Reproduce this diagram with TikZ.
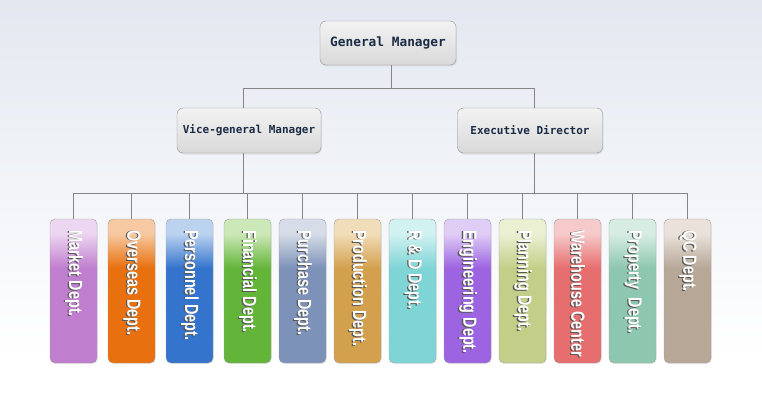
\documentclass[tikz,border=0pt]{standalone}
\usepackage{fontspec}
\setmainfont{Liberation Sans}
\newfontfamily\headfont{DejaVu Sans Mono}
\usetikzlibrary{shadows}

\definecolor{bgtop}{HTML}{E3E8F0}
\definecolor{linegray}{HTML}{858585}
\definecolor{headtext}{HTML}{1A2B45}
% department colours: light top / full body
\definecolor{mktL}{HTML}{EDD6F1}\definecolor{mktD}{HTML}{C07ECE}
\definecolor{ovsL}{HTML}{F6C9A2}\definecolor{ovsD}{HTML}{E8700E}
\definecolor{perL}{HTML}{BCD3F0}\definecolor{perD}{HTML}{3474CC}
\definecolor{finL}{HTML}{CDE8B8}\definecolor{finD}{HTML}{63B53A}
\definecolor{purL}{HTML}{D6DCE8}\definecolor{purD}{HTML}{7D92B8}
\definecolor{proL}{HTML}{F2DDBA}\definecolor{proD}{HTML}{D3A04E}
\definecolor{rndL}{HTML}{D2F1F1}\definecolor{rndD}{HTML}{7FD5D6}
\definecolor{engL}{HTML}{E0CDF6}\definecolor{engD}{HTML}{9C64E0}
\definecolor{plaL}{HTML}{EBF0D3}\definecolor{plaD}{HTML}{C3CF88}
\definecolor{warL}{HTML}{F6CACA}\definecolor{warD}{HTML}{E76E6E}
\definecolor{prpL}{HTML}{D7EDE3}\definecolor{prpD}{HTML}{8DC7AF}
\definecolor{qcL}{HTML}{EAE2DA}\definecolor{qcD}{HTML}{B7A797}

\colorlet{deptlight}{mktL}
\colorlet{deptdark}{mktD}
\pgfdeclareverticalshading[deptlight,deptdark]{deptshade}{100bp}{%
  color(0bp)=(deptdark); color(58bp)=(deptdark);
  color(70bp)=(deptlight); color(100bp)=(deptlight)}

\newcommand{\deptlabel}[1]{\scalebox{.76}[1]{%
  \rlap{\kern1pt\raisebox{-1.3pt}{\color{black!65}#1}}\color{white}#1}}

\tikzset{
    topbox/.style={draw=linegray!90, rounded corners=6pt, top color=white!95!black,
        bottom color=white!85!black, text=headtext,
        drop shadow={opacity=.15, shadow xshift=1pt, shadow yshift=-1.5pt}},
    deptbox/.style={draw=gray!75, rounded corners=5pt, shading=deptshade,
        minimum width=47pt, minimum height=144pt, inner sep=0pt,
        drop shadow={opacity=.12, shadow xshift=.8pt, shadow yshift=-1.2pt}},
    depttext/.style={rotate=-90, anchor=west, inner sep=0pt,
        font=\fontsize{19}{19}\selectfont\bfseries},
    link/.style={draw=linegray, line width=.8pt}
}

\begin{document}
\begin{tikzpicture}[x=1pt,y=-1pt]
    \useasboundingbox (0,0) rectangle (762,417);
    % background
    \shade[top color=bgtop, bottom color=white] (0,0) rectangle (762,355);
    \fill[white] (0,355) rectangle (762,417);

    % managers
    \node[topbox, minimum width=136pt, minimum height=44pt,
          font=\headfont\bfseries\fontsize{12.8}{14}\selectfont] (gm) at (388,43) {General Manager};
    \node[topbox, minimum width=144pt, minimum height=45pt,
          font=\headfont\bfseries\fontsize{11}{13}\selectfont] (vgm) at (249,130.5) {Vice-general Manager};
    \node[topbox, minimum width=145pt, minimum height=45pt,
          font=\headfont\bfseries\fontsize{11}{13}\selectfont] (ed) at (530,130.5) {Executive Director};

    % departments
    \foreach \x/\n/\lt/\dk/\t in {
        73.5/d1/mktL/mktD/Market Dept.,
        131.5/d2/ovsL/ovsD/Overseas Dept.,
        189.5/d3/perL/perD/Personnel Dept.,
        247.5/d4/finL/finD/Financial Dept.,
        302.5/d5/purL/purD/Purchase Dept.,
        357.5/d6/proL/proD/Production Dept.,
        412.5/d7/rndL/rndD/R \& D Dept.,
        467.5/d8/engL/engD/Engineering Dept.,
        522.5/d9/plaL/plaD/Planning Dept.,
        577.5/d10/warL/warD/Warehouse Center,
        632.5/d11/prpL/prpD/Property~ Dept.,
        687.5/d12/qcL/qcD/QC Dept.}{
        \colorlet{deptlight}{\lt}
        \colorlet{deptdark}{\dk}
        \node[deptbox] (\n) at (\x,291) {};
        \node[depttext] (\n t) at (\x,230) {\deptlabel{\t}};
    }

    % connectors
    \coordinate (top bar) at (0,88);
    \coordinate (bus) at (0,193);
    \draw[link] ([xshift=3pt]gm.south) -- ([xshift=3pt]gm.south |- top bar);
    \draw[link] ([xshift=-6pt]vgm.north |- top bar) -- ([xshift=4pt]ed.north |- top bar);
    \draw[link] ([xshift=-6pt]vgm.north) -- ([xshift=-6pt]vgm.north |- top bar);
    \draw[link] ([xshift=4pt]ed.north) -- ([xshift=4pt]ed.north |- top bar);
    \draw[link] ([xshift=-6pt]vgm.south) -- ([xshift=-6pt]vgm.south |- bus);
    \draw[link] ([xshift=4pt]ed.south) -- ([xshift=4pt]ed.south |- bus);
    \draw[link] (d1.north |- bus) -- (d12.north |- bus);
    \foreach \i in {1,...,12}
        \draw[link] (d\i.north) -- (d\i.north |- bus);
\end{tikzpicture}
\end{document}
